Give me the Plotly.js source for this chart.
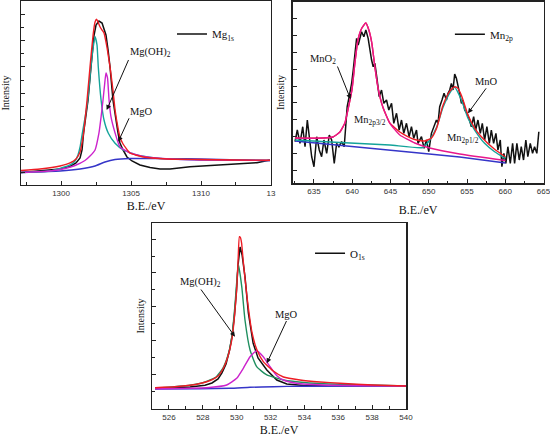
<!DOCTYPE html>
<html>
<head>
<meta charset="utf-8">
<script src="https://cdn.plot.ly/plotly-3.0.1.min.js"></script>
<style>html,body{margin:0;padding:0;background:#fff;}#chart{width:550px;height:437px;}</style>
</head>
<body>
<div id="chart"></div>
<script>
// ---------- Mg 1s panel (B.E. in eV, intensity in a.u.) ----------
const mgX_exp = [1297.14,1298.5,1299.93,1300.64,1301.07,1301.36,1301.5,1301.61,1301.79,1301.93,1302.14,1302.36,1302.5,1302.71,1302.93,1303.07,1303.21,1303.36,1303.5,1303.71,1303.86,1304.07,1304.21,1304.43,1304.71,1305.07,1305.64,1306.36,1307.07,1307.79,1309.21,1311.57,1314.0,1314.93];
const mgY_exp = [12.5,14,16,18.5,22,27,35,52,70,85,118,150,160,164,162,157,150,135,118,85,70,52,42,35,28,24,20,17.5,16,16,18.3,20,22.3,25];
const mgX_env = [1297.14,1298.5,1299.93,1300.64,1301.07,1301.36,1301.5,1301.64,1301.86,1302.07,1302.29,1302.43,1302.54,1302.64,1302.79,1302.93,1303.07,1303.14,1303.29,1303.5,1303.71,1303.86,1304.07,1304.21,1304.43,1304.93,1305.86,1307.57,1309.93,1312.29,1314.93];
const mgY_env = [14.5,16,19,22,26,33,42,55,85,118,150,163,165.7,163,158,155,152,148,137,118,95,75,57,48,41,32,28,26,25.5,25,24.7];
const mgX_oh = [1297.14,1299.21,1299.93,1300.64,1301.0,1301.21,1301.36,1301.52,1301.71,1301.91,1302.14,1302.29,1302.43,1302.57,1302.66,1302.86,1303.07,1303.38,1303.86,1304.45,1305.41,1306.57,1307.79,1309.93,1314.93];
const mgY_oh = [12.5,14,16.5,20,24,30,38,51.7,67,85,118.3,137,148.3,140,118.3,85,65,51.7,41.7,35,30,27.3,26,25,24.5];
const mgX_mgo = [1297.14,1299.21,1300.29,1301.0,1301.71,1302.07,1302.43,1302.71,1302.86,1303.0,1303.11,1303.21,1303.32,1303.43,1303.57,1303.86,1304.21,1304.93,1306.14,1307.79,1309.93,1314.93];
const mgY_mgo = [12.5,14,16.5,19.5,24.5,29,35,52,68,85,100,112,107,85,68,52,38,32,28,26,25,24.5];
const mgX_bg = [1297.14,1299.93,1301.36,1302.43,1303.14,1303.86,1304.93,1307.79,1309.93,1312.79,1314.93];
const mgY_bg = [12.5,14,16,19,23,25.5,26.5,26.3,26,25,24.5];
const mgTickVals = [1300,1305,1310,1315];
const mgTickText = ["1300","1305","1310","13"];

// ---------- Mn 2p panel ----------
const mnX_exp = [632.52,632.82,633.17,633.53,633.83,634.13,634.39,634.70,635.0,635.35,
635.69,636.0,636.30,636.66,637.0,637.31,637.65,637.96,638.26,638.61,
638.95,639.17,639.34,639.60,639.92,640.13,640.35,640.57,640.78,641.0,
641.22,641.52,641.78,642.08,642.30,642.53,642.74,642.96,643.26,643.52,
643.83,644.13,644.48,644.78,645.14,645.43,645.79,646.13,646.44,646.74,
647.09,647.43,647.74,648.04,648.40,648.60,649.05,649.39,649.70,650.0,
650.35,650.69,651.0,651.21,651.43,651.73,652.0,652.31,652.52,652.74,
652.96,653.17,653.39,653.61,653.82,654.04,654.27,654.47,654.70,655.0,
655.26,655.57,655.87,656.13,656.43,656.74,657.0,657.30,657.60,657.92,
658.18,658.48,658.78,659.04,659.35,659.56,659.82,660.08,660.34,660.66,
660.96,661.22,661.52,661.83,662.09,662.39,662.69,662.95,663.27,663.57,
663.83,664.13,664.39];
const mnY_exp = [41.6,53.3,40,56.6,36.6,63.3,46.6,26.6,16.6,46.6,
33.3,26.6,43.3,30,48.3,43.3,20,40,36.6,41.6,
36.6,63.3,76.6,86.6,100,113.3,133.3,145,138.3,146.6,
151.6,146.6,153.3,145,133.3,123.3,116.6,120,103.3,86.6,
93.3,80,83.3,73.3,80,60,70,53.3,63.3,50,
60,46.6,56.6,45,53.3,40,46.6,35,43.3,31.6,
50,56.6,63.3,60,76.6,83.3,90,83.3,90,93.3,
100,93.3,109.3,105,98.3,90,80,83.3,73.3,70,
65,56.6,66.6,53.3,63.3,50,60,43.3,56.6,40,
53.3,40,50,33.3,43.3,16.6,30,20,36.6,20,
40,20,40,23.3,36.6,23.3,43.3,26.6,40,30,
36.6,30,51.6];
const mnX_env = [632.52,634.48,636.17,637.48,638.39,639.04,639.43,639.96,640.35,640.74,641.26,641.78,642.17,642.56,642.96,643.35,644.0,644.91,646.22,647.13,648.17,649.48,650.35,651.04,651.83,652.52,653.0,653.39,653.78,654.30,655.13,656.0,656.87,658.61,660.0];
const mnY_env = [45.3,45,45.3,46.3,51.3,60.3,73.3,93.3,120.3,143.3,155.3,160.3,153.3,140.3,116.3,96.3,76.3,60.3,51.3,47.3,43.8,42.3,45.3,55.3,77.3,89.3,94.3,96.6,95.3,87.3,68.3,55.3,46.6,34,26.6];
const mnX_mno2 = [632.52,634.48,636.17,637.48,638.39,639.04,639.43,639.96,640.35,640.74,641.26,641.78,642.17,642.56,642.96,643.35,644.0,644.91,646.22,648.17,650.13,654.04,660.04];
const mnY_mno2 = [45.3,45,45.3,46.3,51.3,60.3,73.3,93.3,120.3,143.3,155.3,160.3,153.3,140.3,116.3,96.3,76.3,60.3,48.3,40.3,35.3,29.3,22.8];
const mnX_mno = [632.52,638.39,644.91,649.22,650.13,651.04,651.83,652.74,653.39,654.27,655.13,656.0,657.30,658.61,660.0];
const mnY_mno = [43.3,40.8,38.3,35.8,43.3,56.3,75.3,90.3,96,83.3,65,53.3,40,31.6,25];
const mnX_bg = [632.52,639.69,648.40,654.04,660.04];
const mnY_bg = [42.3,37.3,30.6,26.3,20.3];

// ---------- O 1s panel ----------
const oX_exp = [525.18,527.24,528.13,528.54,528.90,529.13,529.37,529.58,529.73,529.87,529.99,530.08,530.20,530.32,530.49,530.69,530.97,531.26,531.78,532.37,532.96,534.14,540.0];
const oY_exp = [20.5,22,23.7,26,30,36,45,59,73,94,119,144,162,154,132.3,96,66,51,39,29,25,23.3,23.3];
const oX_env = [525.18,526.36,527.24,527.84,528.43,528.90,529.25,529.49,529.70,529.84,529.99,530.08,530.16,530.22,530.29,530.38,530.61,530.91,531.20,531.57,532.16,532.76,533.74,534.92,536.10,538.05,540.0];
const oY_env = [21.3,22.2,23.7,25.5,28.5,33,42,53,68,87,117,147,172.3,171.5,166,149,112,76,59,47.3,38,32,29,27,25.7,24,23];
const oX_oh = [525.18,527.24,528.13,528.78,529.19,529.49,529.73,529.90,530.10,530.30,530.49,530.79,531.18,531.78,532.76,534.14,536.10,540.0];
const oY_oh = [20.7,23.7,27,32,41,54,74,104,144.7,122.3,89,59,42.3,34,29,26.3,24.7,23];
const oX_mgo = [525.18,528.23,529.41,530.0,530.39,530.79,531.18,531.57,531.97,532.37,532.76,533.55,535.12,540.0];
const oY_mgo = [20.3,21.3,24,30.7,40.7,52.3,58.3,52.3,42.3,33.3,29,25.7,24,23];
const oX_bg = [525.18,527.84,529.61,530.79,532.16,533.74,540.0];
const oY_bg = [20,20.3,20.7,21.7,22.3,22.8,23.2];

// ---------- styling ----------
const SERIF = "Liberation Serif, Times New Roman, serif";
const SANS = "Liberation Sans, Arial, sans-serif";
const C = {black:"#111111", red:"#ee1c24", teal:"#14a39a", green:"#1f8f5f", mag:"#cc22cc", pink:"#e8178c", blue:"#3535c8"};

function fit(x, y, color, xa, ya, smooth) {
  return {x:x, y:y, xaxis:xa, yaxis:ya, mode:"lines", showlegend:false, hoverinfo:"skip",
    line:{color:color, width:1.4, shape: smooth ? "spline" : "linear", smoothing:0.45}};
}
function exp(x, y, name, xa, ya, lg) {
  return {x:x, y:y, xaxis:xa, yaxis:ya, mode:"lines", name:name, legend:lg, showlegend:true,
    line:{color:C.black, width:1.5, shape:"linear"}};
}

const traces = [
  exp(mgX_exp, mgY_exp, "Mg<sub>1s</sub>", "x", "y", "legend"),
  fit(mgX_bg, mgY_bg, C.blue, "x", "y", true),
  fit(mgX_oh, mgY_oh, C.teal, "x", "y", true),
  fit(mgX_mgo, mgY_mgo, C.mag, "x", "y", true),
  fit(mgX_env, mgY_env, C.red, "x", "y", true),

  exp(mnX_exp, mnY_exp, "Mn<sub>2p</sub>", "x2", "y2", "legend2"),
  fit(mnX_bg, mnY_bg, C.blue, "x2", "y2", false),
  fit(mnX_mno, mnY_mno, C.teal, "x2", "y2", true),
  fit(mnX_env, mnY_env, C.red, "x2", "y2", true),
  fit(mnX_mno2, mnY_mno2, C.pink, "x2", "y2", true),

  exp(oX_exp, oY_exp, "O<sub>1s</sub>", "x3", "y3", "legend3"),
  fit(oX_bg, oY_bg, C.blue, "x3", "y3", true),
  fit(oX_oh, oY_oh, C.green, "x3", "y3", true),
  fit(oX_mgo, oY_mgo, C.mag, "x3", "y3", true),
  fit(oX_env, oY_env, C.red, "x3", "y3", true)
];

function xax(domain, range, anchor, extra, standoff) {
  return Object.assign({domain:domain, range:range, anchor:anchor, showline:true, mirror:true,
    linecolor:"#222", linewidth:1.5, showgrid:false, zeroline:false,
    ticks:"inside", ticklen:4, tickcolor:"#222", tickwidth:1, ticklabeloverflow:"allow",
    tickfont:{family:SANS, size:8, color:"#333"},
    title:{text:"B.E./eV", font:{family:SERIF, size:12, color:"#111"}, standoff:standoff}}, extra);
}
function yax(domain, range, anchor, extra, standoff) {
  return Object.assign({domain:domain, range:range, anchor:anchor, showline:true, mirror:true,
    linecolor:"#222", linewidth:1.5, showgrid:false, zeroline:false, showticklabels:false,
    ticks:"inside", ticklen:4, tickcolor:"#222", tickwidth:1,
    title:{text:"Intensity", font:{family:SERIF, size:10, color:"#111"}, standoff:standoff}}, extra);
}

function legendAt(x, y) {
  return {x:x, y:y, xanchor:"left", yanchor:"middle", bgcolor:"rgba(0,0,0,0)", borderwidth:0,
    font:{family:SERIF, size:11, color:"#111"}, itemwidth:30};
}

const layout = {
  width:550, height:437, margin:{l:0, r:0, t:0, b:0},
  paper_bgcolor:"#fff", plot_bgcolor:"#fff",
  font:{family:SERIF},
  xaxis: xax([0.0382,0.4927],[1297.14,1315],"y",
    {tickmode:"array", tickvals:mgTickVals, ticktext:mgTickText,
     minor:{ticks:"inside", ticklen:2.5, tickmode:"linear", tick0:1297.5, dtick:2.5, tickcolor:"#222"}}, 4),
  yaxis: yax([0.5767,0.9977],[0,184],"x",
    {tick0:12, dtick:26.5, minor:{ticks:"inside", ticklen:2.5, tick0:12, dtick:13.25, tickcolor:"#222"}}, 10),
  xaxis2: xax([0.5322,0.9882],[632.22,665.0],"y2",
    {tick0:635, dtick:5, minor:{ticks:"inside", ticklen:2.5, tick0:632.5, dtick:2.5, tickcolor:"#222"}}, 10),
  yaxis2: yax([0.5805,0.9961],[0,181.6],"x2", {tick0:12.6, dtick:16.93}, 4),
  xaxis3: xax([0.2764,0.7382],[525,540],"y3",
    {tick0:526, dtick:2, minor:{ticks:"inside", ticklen:2.5, tick0:525, dtick:1, tickcolor:"#222"}}, 4),
  yaxis3: yax([0.0641,0.4897],[0,186],"x3",
    {tick0:0.9, dtick:33.8, minor:{ticks:"inside", ticklen:2.5, tick0:0.9, dtick:16.9, tickcolor:"#222"}}, 4),
  legend: legendAt(0.3127, 0.922),
  legend2: legendAt(0.818, 0.9215),
  legend3: legendAt(0.5637, 0.4204),
  annotations: []
};

// label whose arrow starts at the text-box corner (tail) and points at the head
function callout(text, hx, hy, tx, ty, xr, yr, xanchor) {
  return {text:text, x:hx, y:hy, ax:tx, ay:ty, xref:xr, yref:yr, axref:xr, ayref:yr,
    xanchor:xanchor, yanchor:"bottom", borderpad:0,
    showarrow:true, arrowhead:2, arrowsize:1, arrowwidth:1, arrowcolor:"#111",
    font:{family:SERIF, size:10.5, color:"#111"}};
}
function label(text, x, y, xr, yr) {
  return {text:text, x:x, y:y, xref:xr, yref:yr, showarrow:false,
    font:{family:SERIF, size:10.5, color:"#111"}};
}
layout.annotations.push(
  callout("Mg(OH)<sub>2</sub>", 1303.26, 75, 1304.82, 125, "x", "y", "left"),
  callout("MgO", 1304.09, 43.3, 1304.86, 66.7, "x", "y", "left"),

  callout("MnO<sub>2</sub>", 639.79, 84, 638.07, 116.8, "x2", "y2", "right"),
  label("Mn<sub>2p3/2</sub>", 642.3, 63.3, "x2", "y2"),
  callout("MnO", 655.13, 70, 657.50, 95, "x2", "y2", "center"),
  label("Mn<sub>2p1/2</sub>", 654.47, 45, "x2", "y2"),

  callout("Mg(OH)<sub>2</sub>", 529.90, 72.3, 527.89, 119.5, "x3", "y3", "center"),
  callout("MgO", 531.78, 45.7, 532.94, 88, "x3", "y3", "center")
);

Plotly.newPlot("chart", traces, layout, {staticPlot:true, displayModeBar:false});
</script>
</body>
</html>
